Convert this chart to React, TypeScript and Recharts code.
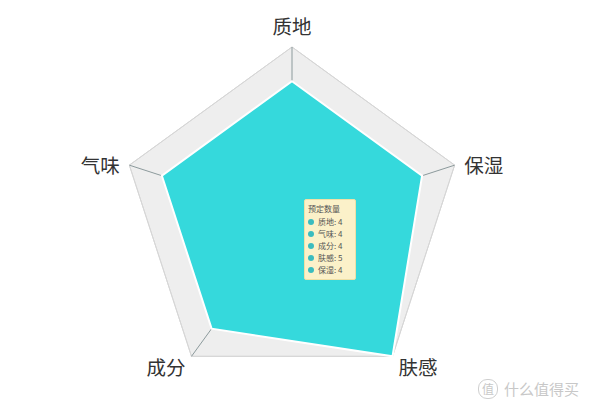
import React from "react";
import {
  RadarChart,
  Radar,
  PolarGrid,
  PolarAngleAxis,
  PolarRadiusAxis,
  Tooltip,
} from "recharts";

const categories = ["质地", "保湿", "肤感", "成分", "气味"];
const values = [4, 4, 5, 4, 4];
const seriesName = "预定数量";
const tooltipOrder = ["质地", "气味", "成分", "肤感", "保湿"];
const maxValue = 5;

const data = categories.map((name, i) => ({ name, value: values[i] }));

const CX = 292;
const CY = 218;
const R = 171;
const FONT = '"Noto Sans CJK SC", "Noto Sans", sans-serif';

// labels sit just outside each vertex, aligned away from the centre
const AngleTick = (props: any) => {
  const { x, y, payload } = props;
  const dx = x - CX;
  const dy = y - CY;
  const d = Math.sqrt(dx * dx + dy * dy) || 1;
  const px = CX + (dx / d) * (R + 10);
  const py = CY + (dy / d) * (R + 10);
  const anchor = Math.abs(dx) < 1 ? "middle" : dx > 0 ? "start" : "end";
  const isTop = dy < -100 && Math.abs(dx) < 1;
  return (
    <text
      x={px}
      y={isTop ? py - 3 : py + 2}
      textAnchor={anchor}
      dominantBaseline={isTop ? "auto" : "central"}
      fontSize={19.5}
      fill="#333"
      fontFamily={FONT}
    >
      {payload.value}
    </text>
  );
};

const TooltipBox = () => (
  <div
    style={{
      background: "#fbf1c9",
      border: "1px solid #efe0a6",
      borderRadius: 2,
      padding: "3px 4px 3px 3px",
      fontFamily: FONT,
      fontSize: 8,
      lineHeight: "12px",
      color: "#555",
      width: 43,
    }}
  >
    <div style={{ marginBottom: 1 }}>{seriesName}</div>
    {tooltipOrder.map((name) => (
      <div key={name} style={{ display: "flex", alignItems: "center" }}>
        <span
          style={{
            display: "inline-block",
            width: 6,
            height: 6,
            borderRadius: 3,
            background: "#3bbcbf",
            marginRight: 4,
          }}
        />
        {name}: {values[categories.indexOf(name)]}
      </div>
    ))}
  </div>
);

export default function App() {
  return (
    <div style={{ position: "absolute", left: 0, top: 0, width: 600, height: 408 }}>
      <RadarChart
        width={600}
        height={408}
        data={data}
        cx={CX}
        cy={CY}
        outerRadius={R}
        margin={{ top: 0, right: 0, bottom: 0, left: 0 }}
      >
        <PolarGrid
          gridType="polygon"
          polarRadius={[R]}
          radialLines={false}
          fill="#eeeeee"
          stroke="#d6d6d6"
          strokeWidth={1}
        />
        <PolarGrid gridType="polygon" polarRadius={[]} stroke="#8c9a9c" strokeWidth={1} />
        <PolarAngleAxis dataKey="name" tick={<AngleTick />} tickLine={false} axisLine={false} />
        <PolarRadiusAxis domain={[0, maxValue]} tick={false} axisLine={false} tickCount={6} />
        <Radar
          name={seriesName}
          dataKey="value"
          fill="#35d9dc"
          fillOpacity={1}
          stroke="#ffffff"
          strokeWidth={2}
          dot={false}
          activeDot={false}
          isAnimationActive={false}
        />
        <Tooltip
          active={true}
          defaultIndex={0}
          position={{ x: 304, y: 199 }}
          content={<TooltipBox />}
          cursor={false}
          isAnimationActive={false}
        />
      </RadarChart>
      <div
        style={{
          position: "absolute",
          left: 478,
          top: 378,
          display: "flex",
          alignItems: "center",
          fontFamily: FONT,
          fontSize: 15,
          color: "#c8c8c8",
        }}
      >
        <span
          style={{
            display: "inline-block",
            width: 18,
            height: 18,
            borderRadius: 9,
            border: "1px solid #cfcfcf",
            fontSize: 12,
            lineHeight: "18px",
            textAlign: "center",
            marginRight: 6,
          }}
        >
          值
        </span>
        什么值得买
      </div>
    </div>
  );
}
